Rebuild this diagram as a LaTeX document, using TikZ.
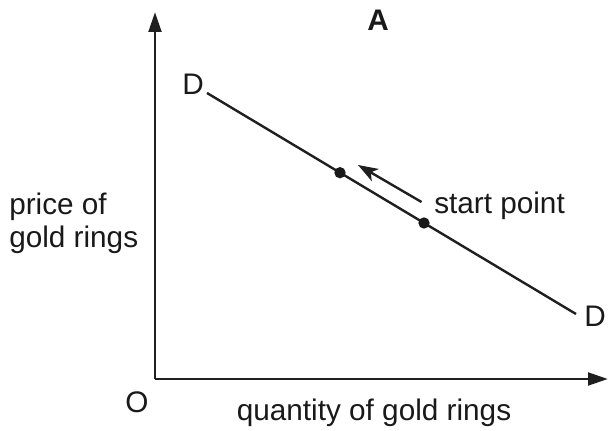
\documentclass[tikz,border=0pt]{standalone}
\usepackage{fontspec}
\setmainfont{Liberation Sans}
\usetikzlibrary{arrows.meta}
\begin{document}
\begin{tikzpicture}[x=0.75pt,y=-0.75pt,
  lbl/.style={font=\fontsize{22.3}{26}\selectfont, inner sep=0pt, text=black!90},
  axis/.style={line width=2.2pt, draw=black!88, -{Triangle[length=15pt,width=9.5pt]}},
  curve/.style={line width=1.8pt, draw=black!88},
  dot/.style={circle, fill=black!90, minimum size=8.5pt, inner sep=0pt},
  move/.style={line width=1.8pt, draw=black!88, -{Stealth[length=15pt,width=10.5pt,inset=4pt]}}]
\useasboundingbox (0,0) rectangle (608,431);
\coordinate (o) at (155,379);
\coordinate (ytop) at (155,12);
\coordinate (xend) at (608,379);
\draw[axis] (o.center) -- (ytop);
\draw[axis] (o.center) -- (xend);
\coordinate (d1) at (207,93);
\coordinate (d2) at (576,314);
\draw[curve] (d1) -- (d2);
\node[dot] (p1) at (340,172.7) {};
\node[dot] (p2) at (424,223) {};
\coordinate (as) at (421.5,202);
\coordinate (ae) at (358,165);
\draw[move] (as) -- (ae);
\node[lbl, font=\fontsize{22.3}{26}\selectfont\bfseries, anchor=base] (ta) at (378,31) {A};
\node[lbl, anchor=base west] (tD1) at (182,95) {D};
\node[lbl, anchor=base west] (tD2) at (584,327) {D};
\node[lbl, anchor=base west] (tsp) at (434,214) {start point};
\node[lbl, anchor=base west] (tp1) at (9,215) {price of};
\node[lbl, anchor=base west] (tp2) at (9,248) {gold rings};
\node[lbl, anchor=base] (tO) at (137,413) {O};
\node[lbl, anchor=base] (tq) at (374,421) {quantity of gold rings};
\end{tikzpicture}
\end{document}
